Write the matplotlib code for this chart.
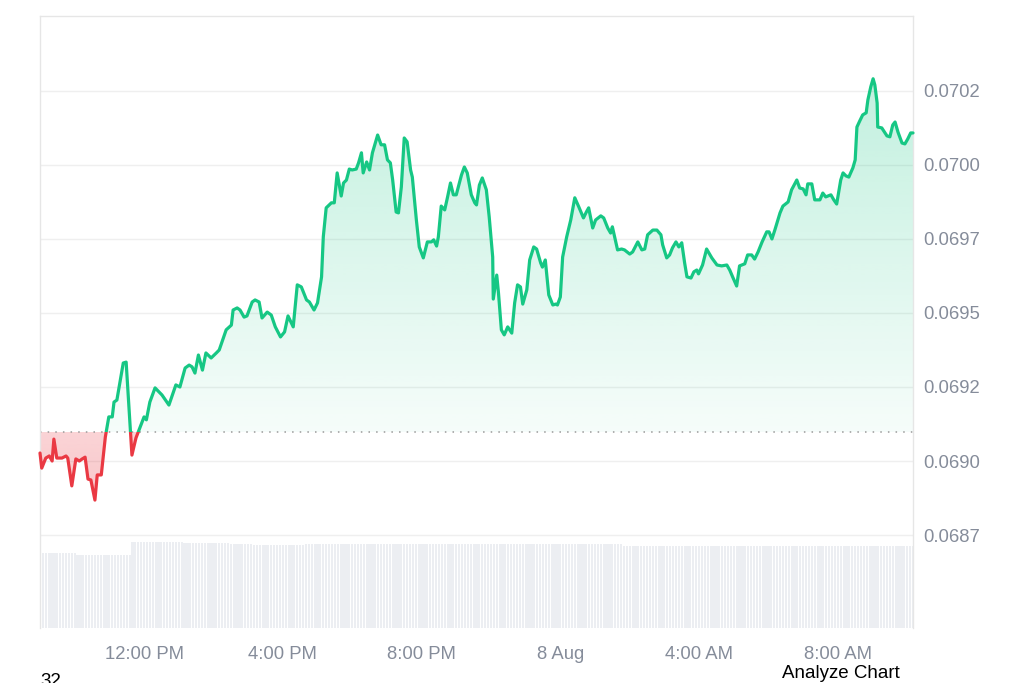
import numpy as np
import pandas as pd
import matplotlib
matplotlib.use("Agg")
import matplotlib.pyplot as plt
import matplotlib.dates as mdates
from matplotlib.path import Path
from matplotlib.patches import Rectangle

plt.rcParams['font.family'] = ['Liberation Sans', 'DejaVu Sans']

# price series (minutes after 7 Aug 09:00)
start = pd.Timestamp("2024-08-07 09:00")
minutes = [
    0, 3, 10, 16, 21, 24, 29, 38, 45, 48, 55, 62, 68, 73, 78, 83, 88, 95, 99, 106,
    113, 119, 125, 128, 133, 144, 149, 159, 166, 180, 184, 190, 199, 211, 223, 235, 242, 251, 258, 263,
    268, 274, 281, 287, 296, 305, 310, 322, 331, 334, 341, 346, 353, 358, 367, 372, 379, 384, 393, 400,
    407, 416, 423, 429, 438, 445, 452, 461, 466, 474, 480, 487, 490, 495, 504, 509, 514, 521, 525, 530,
    535, 540, 547, 551, 556, 559, 565, 570, 575, 584, 590, 596, 601, 606, 610, 616, 620, 625, 630, 635,
    641, 644, 651, 656, 663, 670, 677, 681, 686, 689, 694, 700, 705, 710, 715, 720, 729, 734, 739, 746,
    752, 755, 760, 765, 772, 777, 783, 784, 790, 793, 798, 803, 809, 816, 821, 826, 831, 835, 842, 847,
    854, 859, 866, 869, 874, 880, 887, 892, 895, 900, 904, 911, 918, 925, 932, 940, 945, 949, 956, 961,
    970, 975, 982, 987, 990, 999, 1006, 1011, 1020, 1025, 1034, 1041, 1046, 1051, 1060, 1067, 1074, 1077, 1084, 1089,
    1094, 1100, 1105, 1110, 1115, 1119, 1126, 1131, 1136, 1139, 1146, 1153, 1162, 1171, 1179, 1188, 1193, 1198, 1205, 1210,
    1219, 1224, 1231, 1236, 1242, 1249, 1257, 1261, 1266, 1271, 1280, 1285, 1294, 1300, 1309, 1314, 1320, 1325, 1328, 1335,
    1340, 1349, 1354, 1359, 1368, 1373, 1378, 1385, 1389, 1394, 1399, 1406, 1410, 1413, 1418, 1423, 1429, 1432, 1437, 1441,
    1444, 1448, 1449, 1456, 1465, 1470, 1475, 1479, 1484, 1491, 1496, 1501, 1506, 1510,
]
price = [
    0.069027, 0.068976, 0.069010, 0.069017, 0.069000, 0.069074, 0.069010, 0.069010, 0.069017, 0.069010,
    0.068916, 0.069007, 0.069000, 0.069007, 0.069013, 0.068939, 0.068936, 0.068868, 0.068953, 0.068953,
    0.069081, 0.069149, 0.069149, 0.069199, 0.069206, 0.069331, 0.069334, 0.069020, 0.069078, 0.069149,
    0.069139, 0.069199, 0.069247, 0.069223, 0.069189, 0.069257, 0.069250, 0.069314, 0.069324, 0.069318,
    0.069297, 0.069358, 0.069307, 0.069365, 0.069348, 0.069365, 0.069375, 0.069443, 0.069459, 0.069510,
    0.069517, 0.069510, 0.069486, 0.069490, 0.069537, 0.069544, 0.069537, 0.069483, 0.069503, 0.069493,
    0.069453, 0.069419, 0.069436, 0.069490, 0.069453, 0.069595, 0.069588, 0.069544, 0.069537, 0.069510,
    0.069534, 0.069622, 0.069757, 0.069855, 0.069872, 0.069872, 0.069973, 0.069895, 0.069939, 0.069949,
    0.069986, 0.069983, 0.069986, 0.070007, 0.070041, 0.069973, 0.070010, 0.069983, 0.070041, 0.070101,
    0.070068, 0.070068, 0.070017, 0.070007, 0.069949, 0.069841, 0.069838, 0.069926, 0.070091, 0.070078,
    0.069983, 0.069959, 0.069814, 0.069723, 0.069686, 0.069740, 0.069740, 0.069747, 0.069726, 0.069757,
    0.069861, 0.069848, 0.069892, 0.069939, 0.069899, 0.069899, 0.069966, 0.069993, 0.069973, 0.069899,
    0.069872, 0.069865, 0.069932, 0.069956, 0.069916, 0.069824, 0.069689, 0.069547, 0.069628, 0.069568,
    0.069443, 0.069426, 0.069453, 0.069432, 0.069534, 0.069595, 0.069588, 0.069530, 0.069578, 0.069679,
    0.069723, 0.069716, 0.069669, 0.069655, 0.069679, 0.069561, 0.069527, 0.069530, 0.069527, 0.069554,
    0.069689, 0.069757, 0.069814, 0.069889, 0.069858, 0.069821, 0.069841, 0.069855, 0.069787, 0.069814,
    0.069828, 0.069821, 0.069787, 0.069770, 0.069791, 0.069713, 0.069716, 0.069713, 0.069699, 0.069706,
    0.069740, 0.069713, 0.069716, 0.069764, 0.069780, 0.069780, 0.069764, 0.069730, 0.069686, 0.069696,
    0.069720, 0.069740, 0.069723, 0.069737, 0.069669, 0.069622, 0.069618, 0.069639, 0.069645, 0.069632,
    0.069662, 0.069716, 0.069686, 0.069662, 0.069659, 0.069662, 0.069645, 0.069622, 0.069591, 0.069659,
    0.069666, 0.069696, 0.069696, 0.069682, 0.069706, 0.069740, 0.069774, 0.069774, 0.069750, 0.069780,
    0.069838, 0.069861, 0.069875, 0.069916, 0.069949, 0.069922, 0.069919, 0.069899, 0.069936, 0.069936,
    0.069882, 0.069882, 0.069905, 0.069892, 0.069899, 0.069882, 0.069868, 0.069949, 0.069973, 0.069963,
    0.069959, 0.069990, 0.070017, 0.070128, 0.070149, 0.070169, 0.070176, 0.070220, 0.070264, 0.070291,
    0.070270, 0.070209, 0.070128, 0.070125, 0.070098, 0.070095, 0.070135, 0.070145, 0.070111, 0.070074,
    0.070071, 0.070088, 0.070108, 0.070108,
]
baseline = 0.069098   # opening price (dotted line)

# 24h volume bars, one every 5 minutes (relative units), one row per hour
volume = [
    75, 75, 75, 75, 75, 75, 75, 75, 75, 75, 75, 75,
    75, 73, 73, 73, 73, 73, 73, 73, 73, 73, 73, 73,
    73, 73, 73, 73, 73, 73, 73, 73, 86, 86, 86, 86,
    86, 86, 86, 86, 86, 86, 86, 86, 86, 86, 86, 86,
    86, 86, 85, 85, 85, 85, 85, 85, 85, 85, 85, 85,
    85, 85, 85, 85, 85, 85, 84, 84, 84, 84, 84, 84,
    84, 84, 83, 83, 83, 83, 83, 83, 83, 83, 83, 83,
    83, 83, 83, 83, 83, 83, 83, 83, 84, 84, 84, 84,
    84, 84, 84, 84, 84, 84, 84, 84, 84, 84, 84, 84,
    84, 84, 84, 84, 84, 84, 84, 84, 84, 84, 84, 84,
    84, 84, 84, 84, 84, 84, 84, 84, 84, 84, 84, 84,
    84, 84, 84, 84, 84, 84, 84, 84, 84, 84, 84, 84,
    84, 84, 84, 84, 84, 84, 84, 84, 84, 84, 84, 84,
    84, 84, 84, 84, 84, 84, 84, 84, 84, 84, 84, 84,
    84, 84, 84, 84, 84, 84, 84, 84, 84, 84, 84, 84,
    84, 84, 84, 84, 84, 84, 84, 84, 84, 84, 84, 84,
    84, 84, 84, 84, 84, 84, 84, 84, 84, 84, 82, 82,
    82, 82, 82, 82, 82, 82, 82, 82, 82, 82, 82, 82,
    82, 82, 82, 82, 82, 82, 82, 82, 82, 82, 82, 82,
    82, 82, 82, 82, 82, 82, 82, 82, 82, 82, 82, 82,
    82, 82, 82, 82, 82, 82, 82, 82, 82, 82, 82, 82,
    82, 82, 82, 82, 82, 82, 82, 82, 82, 82, 82, 82,
    82, 82, 82, 82, 82, 82, 82, 82, 82, 82, 82, 82,
    82, 82, 82, 82, 82, 82, 82, 82, 82, 82, 82, 82,
    82, 82, 82, 82, 82, 82, 82, 82, 82, 82, 82, 82,
    82, 82, 82,
]

ytick_vals = [0.07025, 0.0700, 0.06975, 0.0695, 0.06925, 0.0690, 0.06875]
ytick_labels = ["0.0702", "0.0700", "0.0697", "0.0695", "0.0692", "0.0690", "0.0687"]
xtick_times = ["2024-08-07 12:00", "2024-08-07 16:00", "2024-08-07 20:00",
               "2024-08-08 00:00", "2024-08-08 04:00", "2024-08-08 08:00"]
xtick_labels = ["12:00 PM", "4:00 PM", "8:00 PM", "8 Aug", "4:00 AM", "8:00 AM"]

green = "#16c784"
red = "#ea3943"
gray_txt = "#858c9a"

t = mdates.date2num(start + pd.to_timedelta(minutes, unit="min"))
p = np.array(price)
tv = mdates.date2num(start + pd.to_timedelta(np.arange(len(volume)) * 5, unit="min"))

fig = plt.figure(figsize=(10.24, 6.83), dpi=100)
pos = [40 / 1024, 1 - 628 / 683, 873 / 1024, 612 / 683]

# volume underneath
axv = fig.add_axes(pos)
axv.bar(tv, volume, width=0.75 * 5 / 1440, color="#eceef2", linewidth=0, align="center")
axv.set_ylim(0, 612)
axv.set_xlim(t[0], t[-1])
axv.axis("off")

ax = fig.add_axes(pos)
ax.patch.set_visible(False)
ymin, ymax = 0.068436, 0.070503
ax.set_xlim(t[0], t[-1])
ax.set_ylim(ymin, ymax)

# gradient fills clipped to the areas between line and baseline
def grad_fill(mask_up, y0, y1, rgb, a0, a1):
    coll = ax.fill_between(t, p, baseline, where=mask_up, interpolate=True,
                           facecolor="none", edgecolor="none")
    path = Path.make_compound_path(*coll.get_paths())
    img = np.zeros((256, 1, 4))
    img[:, :, :3] = matplotlib.colors.to_rgb(rgb)
    img[:, 0, 3] = np.linspace(a0, a1, 256)
    im = ax.imshow(img, extent=[t[0], t[-1], y0, y1], origin="lower",
                   aspect="auto", interpolation="bilinear", zorder=1)
    im.set_clip_path(path, transform=ax.transData)

grad_fill(p >= baseline, baseline, ymax, green, 0.04, 0.30)
grad_fill(p <= baseline, 0.0688, baseline, red, 0.30, 0.22)
ax.set_xlim(t[0], t[-1])
ax.set_ylim(ymin, ymax)

# price line, green above and red below the opening price
up, = ax.plot(t, p, color=green, lw=2.3, solid_joinstyle="round", solid_capstyle="round", zorder=3)
dn, = ax.plot(t, p, color=red, lw=2.3, solid_joinstyle="round", solid_capstyle="round", zorder=3)
up.set_clip_path(Rectangle((t[0] - 1, baseline), 5, 1, transform=ax.transData))
dn.set_clip_path(Rectangle((t[0] - 1, baseline - 1), 5, 1, transform=ax.transData))

ax.axhline(baseline, color="#9a9a9a", lw=1.1, linestyle=(0, (1, 4)), zorder=2)

ax.set_yticks(ytick_vals)
ax.set_yticklabels(ytick_labels)
ax.yaxis.tick_right()
ax.tick_params(axis="y", length=0, pad=7.5, labelsize=13.3, labelcolor=gray_txt)
ax.set_xticks(mdates.date2num(pd.to_datetime(xtick_times)))
ax.set_xticklabels(xtick_labels)
ax.tick_params(axis="x", length=0, pad=13, labelsize=13.3, labelcolor=gray_txt)
ax.grid(axis="y", color="#efefef", lw=1, zorder=0)
ax.set_axisbelow(True)

for side in ["top", "left", "right"]:
    ax.spines[side].set_color("#e6e6e6")
    ax.spines[side].set_linewidth(1)
ax.spines["bottom"].set_visible(False)

fig.text(900 / 1024, 1 - 678 / 683, "Analyze Chart", ha="right", va="baseline",
         fontsize=13.5, color="black")
fig.text(40 / 1024, 1 - 686 / 683, "32", ha="left", va="baseline",
         fontsize=13.5, color="black")

fig.savefig("out.png", dpi=100)
